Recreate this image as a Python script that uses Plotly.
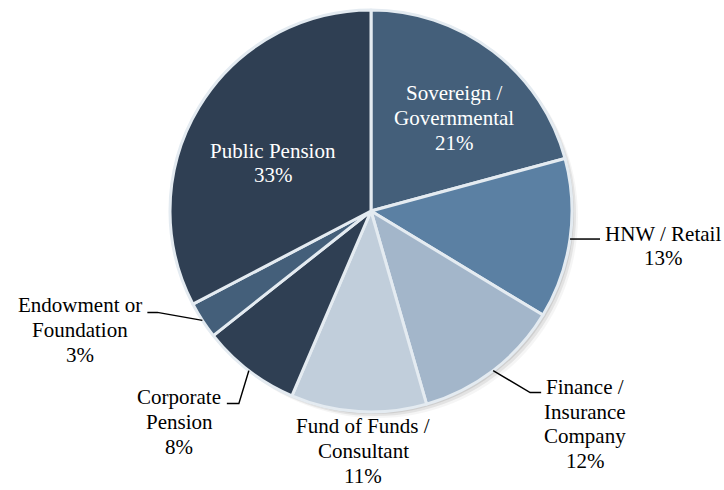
import math

import plotly.graph_objects as go

# investor type breakdown (clockwise from 12 o'clock)
labels = ["Sovereign /<br>Governmental", "HNW / Retail", "Finance /<br>Insurance<br>Company",
          "Fund of Funds /<br>Consultant", "Corporate<br>Pension", "Endowment or<br>Foundation",
          "Public Pension"]
shares = [21, 13, 12, 11, 8, 3, 33]
colors = ["#445f7a", "#5b80a3", "#a3b6ca", "#c1cedb", "#2f3f53", "#445f7a", "#2f3f53"]

W, H = 724, 490
CX, CY, R = 371, 211, 201          # pie centre / radius in px
FONT = "Liberation Serif, Times New Roman, serif"
LINE_H = 24.7

# label block centres (px) and leader-line elbows relative to rim point (px)
label_pos = [(454, 118), (663, 246), (585, 424), (363, 451), (179, 422), (80, 330), (273, 163)]
leaders = [None, [(30, 0)], [(37, 22), (48, 22)], None, [(-10, 33), (-22, 33)],
           [(-45, -8), (-55, -8)], None]
inside = [True, False, False, False, False, False, True]


def px(x, y):
    return x / W, 1 - y / H


def domain(dx=0, dy=0):
    return dict(x=[(CX - R + dx) / W, (CX + R + dx) / W],
                y=[1 - (CY + R + dy) / H, 1 - (CY - R + dy) / H])


fig = go.Figure()

# soft shadow under the pie
for off, op in [(6, 0.04), (4, 0.07), (2, 0.09)]:
    fig.add_trace(go.Pie(values=[1], marker=dict(colors=[f"rgba(0,0,0,{op})"]),
                         domain=domain(off, off), textinfo="none", hoverinfo="skip",
                         showlegend=False, sort=False))

fig.add_trace(go.Pie(
    labels=[l.replace("<br>", " ") for l in labels], values=shares, sort=False,
    direction="clockwise", rotation=0, domain=domain(),
    marker=dict(colors=colors, line=dict(color="#e4ebf1", width=3)),
    textinfo="none", showlegend=False,
))

total = sum(shares)
cum = 0
shapes, annotations = [], []
for lab, v, pos, lead, ins in zip(labels, shares, label_pos, leaders, inside):
    mid = (cum + v / 2) / total * 2 * math.pi
    cum += v
    rx, ry = CX + R * math.sin(mid), CY - R * math.cos(mid)
    if lead:
        pts = [(rx, ry)] + [(rx + dx, ry + dy) for dx, dy in lead]
        path = "M " + " L ".join(f"{px(x, y)[0]},{px(x, y)[1]}" for x, y in pts)
        shapes.append(dict(type="path", path=path, xref="paper", yref="paper",
                           line=dict(color="black", width=1.5)))
    lines = lab.split("<br>") + [f"{v}%"]
    n = len(lines)
    for i, t in enumerate(lines):
        x, y = px(pos[0], pos[1] + (i - (n - 1) / 2) * LINE_H)
        annotations.append(dict(text=t, x=x, y=y, xref="paper", yref="paper", showarrow=False,
                                xanchor="center", yanchor="middle",
                                font=dict(family=FONT, size=21,
                                          color="white" if ins else "black")))

fig.update_layout(width=W, height=H, margin=dict(l=0, r=0, t=0, b=0),
                  paper_bgcolor="white", plot_bgcolor="white",
                  shapes=shapes, annotations=annotations)
# drop the default body margin so the figure sits at the page corner
fig.write_html("out.html", config={"displayModeBar": False},
               post_script="document.body.style.margin='0';")
